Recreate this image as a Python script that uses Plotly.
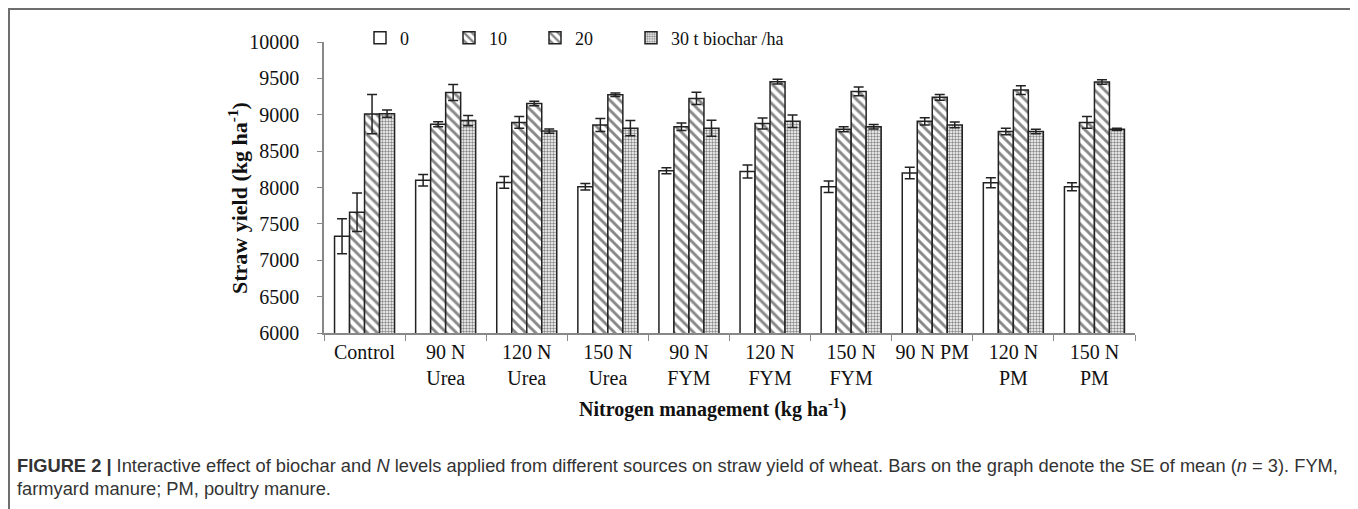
import plotly.graph_objects as go

categories = ["Control", "90 N<br>Urea", "120 N<br>Urea", "150 N<br>Urea", "90 N<br>FYM",
              "120 N<br>FYM", "150 N<br>FYM", "90 N PM", "120 N<br>PM", "150 N<br>PM"]

series_names = ["0", "10", "20", "30 t biochar /ha"]

yield_0 = [7330, 8100, 8070, 8010, 8230, 8220, 8010, 8200, 8065, 8010]
yield_10 = [7660, 8870, 8895, 8860, 8835, 8880, 8800, 8910, 8770, 8895]
yield_20 = [9010, 9305, 9155, 9275, 9225, 9455, 9320, 9240, 9340, 9450]
yield_30 = [9015, 8920, 8775, 8815, 8815, 8910, 8835, 8860, 8770, 8800]

se_0 = [240, 80, 80, 45, 40, 90, 80, 80, 70, 55]
se_10 = [265, 35, 80, 90, 50, 75, 35, 50, 45, 80]
se_20 = [270, 110, 30, 25, 85, 33, 60, 40, 60, 30]
se_30 = [50, 70, 30, 105, 110, 85, 30, 40, 30, 15]

values = [yield_0, yield_10, yield_20, yield_30]
errors = [se_0, se_10, se_20, se_30]
patterns = ["", "\\", "\\", "."]
pat_size = [8, 7, 7, 3]
pat_sol = [0.3, 0.42, 0.42, 0.5]

SERIF = "Liberation Serif, Times New Roman, serif"
SANS = "Liberation Sans, Arial, sans-serif"

# page coordinates (the html body adds an 8px margin around the figure)
OFF = 8
PAGE_W, PAGE_H = 1358, 509
L, R, T, B = 324, 1135, 42, 333


def px(x):
    return (x - L) / (R - L)


def py(y):
    return (B - y) / (B - T)


legend_ids = ["legend", "legend2", "legend3", "legend4"]
legend_text_x = [391, 480, 566, 662]

fig = go.Figure()
for name, vals, errs, shp, ps, sol, lid in zip(series_names, values, errors, patterns, pat_size, pat_sol, legend_ids):
    fig.add_trace(go.Bar(
        x=categories, y=vals, name=name, legend=lid,
        marker=dict(color="white", line=dict(color="#222", width=1.5),
                    pattern=dict(shape=shp, fgcolor="#111", bgcolor="white", size=ps, solidity=sol)),
        error_y=dict(type="data", array=errs, visible=True, color="#222", thickness=1.5, width=5),
    ))

legend_common = dict(orientation="h", xanchor="left", yanchor="middle", itemwidth=30,
                     font=dict(family=SERIF, size=18, color="#111"), bgcolor="rgba(0,0,0,0)")
layout_legends = {}
for lid, tx in zip(legend_ids, legend_text_x):
    layout_legends[lid] = dict(x=px(tx - 31), y=py(38), **legend_common)

fig.update_layout(
    width=PAGE_W - OFF, height=PAGE_H - OFF,
    margin=dict(l=L - OFF, r=PAGE_W - R, t=T - OFF, b=PAGE_H - B),
    paper_bgcolor="white", plot_bgcolor="white",
    barmode="group", bargap=0.26, bargroupgap=0,
    font=dict(family=SERIF, size=19, color="#111"),
    showlegend=True,
    **layout_legends,
)

fig.update_yaxes(range=[6000, 10000], dtick=500, tickformat="d", showline=True, linecolor="#888", linewidth=1.5,
                 ticks="outside", ticklen=5, tickcolor="#888", showgrid=False, zeroline=False,
                 tickfont=dict(family=SERIF, size=20, color="#111"), ticklabelstandoff=14)
fig.update_xaxes(showline=True, linecolor="#888", linewidth=1.5, ticks="outside", tickson="boundaries",
                 ticklen=6, tickcolor="#888", showgrid=False, tickangle=0,
                 tickfont=dict(family=SERIF, size=20, color="#111"))

annotations = [
    dict(text="<b>Straw yield (kg ha<sup>-1</sup>)</b>", x=px(238), y=py(198), xref="paper", yref="paper",
         showarrow=False, textangle=-90, font=dict(family=SERIF, size=22, color="#111"),
         xanchor="center", yanchor="middle"),
    dict(text="<b>Nitrogen management (kg ha<sup>-1</sup>)</b>", x=px(712), y=py(408), xref="paper", yref="paper",
         showarrow=False, font=dict(family=SERIF, size=20, color="#111"), xanchor="center", yanchor="middle"),
    dict(text="<b>FIGURE 2 |</b> Interactive effect of biochar and <i>N</i> levels applied from different sources on straw yield of wheat. Bars on the graph denote the SE of mean (<i>n</i> = 3). FYM,",
         x=px(15), y=py(465), xref="paper", yref="paper", showarrow=False, xanchor="left", yanchor="middle",
         font=dict(family=SANS, size=18.3, color="#333")),
    dict(text="farmyard manure; PM, poultry manure.",
         x=px(15), y=py(489), xref="paper", yref="paper", showarrow=False, xanchor="left", yanchor="middle",
         font=dict(family=SANS, size=18.3, color="#333")),
]
fig.update_layout(annotations=annotations)

fig.add_shape(type="rect", xref="paper", yref="paper", x0=px(9), x1=px(1355), y0=py(540), y1=py(9),
              line=dict(color="#6e6e6e", width=2), fillcolor="rgba(0,0,0,0)", layer="below")

fig.write_html("out.html")
